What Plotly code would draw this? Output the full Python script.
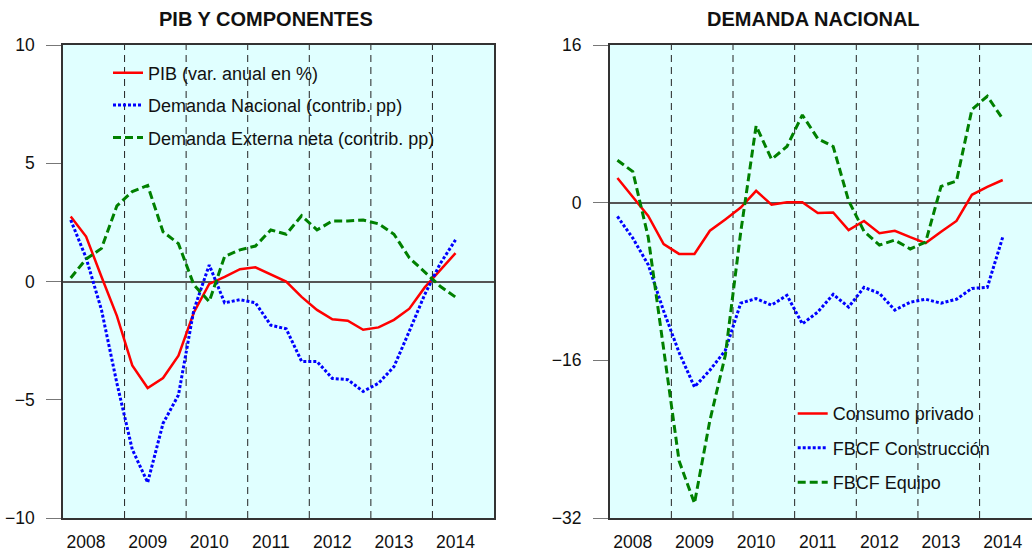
import plotly.graph_objects as go

# ---------------- data ----------------
years = [2008, 2009, 2010, 2011, 2012, 2013, 2014]
quarters = [f"{y}T{q}" for y in years for q in (1, 2, 3, 4)][:26]  # 2008T1 .. 2014T2

pib = [2.75, 1.9, 0.2, -1.45, -3.55, -4.5, -4.08, -3.14,
       -1.31, -0.1, 0.2, 0.52, 0.6, 0.3, 0.0, -0.65,
       -1.2, -1.6, -1.66, -2.04, -1.94, -1.62, -1.15, -0.25,
       0.47, 1.2]
demanda_nacional = [2.6, 1.0, -1.2, -4.3, -7.1, -8.5, -6.0, -4.8,
                    -1.2, 0.7, -0.9, -0.77, -0.9, -1.85, -2.0, -3.38,
                    -3.38, -4.1, -4.15, -4.65, -4.3, -3.6, -2.1, -0.55,
                    0.75, 1.76]
demanda_externa = [0.15, 0.95, 1.4, 3.2, 3.8, 4.06, 2.1, 1.6,
                   -0.14, -0.85, 1.06, 1.34, 1.5, 2.18, 2.0, 2.78,
                   2.18, 2.56, 2.56, 2.6, 2.44, 2.0, 1.0, 0.42,
                   -0.2, -0.66]

consumo_privado = [2.5, 0.6, -1.35, -4.2, -5.2, -5.2, -2.85, -1.7,
                   -0.5, 1.2, -0.2, 0.05, 0.05, -1.05, -1.0, -2.78,
                   -1.85, -3.1, -2.85, -3.5, -4.1, -2.95, -1.85, 0.8,
                   1.6, 2.3]
fbcf_construccion = [-1.4, -3.6, -6.3, -11.0, -15.2, -18.7, -17.0, -15.0,
                     -10.2, -9.73, -10.4, -9.4, -12.3, -11.1, -9.3, -10.6,
                     -8.6, -9.2, -10.9, -10.1, -9.8, -10.2, -9.8, -8.7,
                     -8.6, -3.5]
fbcf_equipo = [4.3, 3.15, -3.5, -15.0, -26.2, -30.5, -22.1, -15.5,
               -3.0, 7.8, 4.4, 5.7, 8.9, 6.5, 5.7, 0.2,
               -2.9, -4.3, -3.8, -4.7, -4.0, 1.65, 2.2, 9.45,
               10.8, 8.5]

year_ticks = [f"{y}T2" for y in years]
year_text = [str(y) for y in years]
left_yticks = [-10, -5, 0, 5, 10]
right_yticks = [-32, -16, 0, 16]

titles = ["PIB Y COMPONENTES", "DEMANDA NACIONAL"]

# ---------------- styles ----------------
FONT = "Arial, Liberation Sans, sans-serif"
RED, BLUE, GREEN = "#FF0000", "#0000FF", "#008000"
BG = "#E0FFFF"

fig = go.Figure()

left_series = [
    ("PIB (var. anual en %)", pib, RED, "solid", 2.5),
    ("Demanda Nacional (contrib. pp)", demanda_nacional, BLUE, "3px,2px", 3),
    ("Demanda Externa neta (contrib. pp)", demanda_externa, GREEN, "8px,4px", 3),
]
right_series = [
    ("Consumo privado", consumo_privado, RED, "solid", 2.5),
    ("FBCF Construcción", fbcf_construccion, BLUE, "3px,2px", 3),
    ("FBCF Equipo", fbcf_equipo, GREEN, "8px,4px", 3),
]

for i, (name, vals, col, dash, w) in enumerate(left_series):
    fig.add_trace(go.Scatter(x=quarters, y=vals, name=name, mode="lines",
                             line=dict(color=col, dash=dash, width=w),
                             xaxis="x", yaxis="y", legend="legend",
                             legendgroup=f"l{i}"))
for i, (name, vals, col, dash, w) in enumerate(right_series):
    fig.add_trace(go.Scatter(x=quarters, y=vals, name=name, mode="lines",
                             line=dict(color=col, dash=dash, width=w),
                             xaxis="x2", yaxis="y2", legend="legend2",
                             legendgroup=f"r{i}"))

# year separators (dashed vertical lines at year boundaries)
shapes = []
for j in range(1, len(years)):
    pos = 4 * j - 0.5
    for xr, yr in (("x", "y domain"), ("x2", "y2 domain")):
        shapes.append(dict(type="line", xref=xr, yref=yr, x0=pos, x1=pos,
                           y0=0, y1=1, layer="below",
                           line=dict(color="#222222", width=1, dash="7px,5px")))

xcommon = dict(type="category", categoryorder="array", categoryarray=quarters,
               tickmode="array", tickvals=year_ticks, ticktext=year_text,
               showgrid=False, zeroline=False, showline=True, linecolor="#333333",
               linewidth=1.5, ticks="outside", ticklen=4, tickcolor="rgba(0,0,0,0)",
               ticklabelstandoff=3,
               tickfont=dict(family=FONT, size=17.5, color="#111111"),
               automargin=False)
ycommon = dict(showgrid=False, zeroline=True, zerolinecolor="#555555", zerolinewidth=1.5,
               showline=True, linecolor="#333333", linewidth=1.5,
               ticks="outside", ticklen=15, tickcolor="#777777", tickwidth=1,
               ticklabelstandoff=8,
               tickfont=dict(family=FONT, size=17.5, color="#111111"),
               automargin=False)

fig.update_layout(
    width=1032, height=552,
    margin=dict(l=0, r=0, t=45, b=34),
    paper_bgcolor="white",
    plot_bgcolor=BG,
    font=dict(family=FONT, color="#111111"),
    shapes=shapes,
    xaxis=dict(xcommon, domain=[63 / 1032, 494 / 1032], range=[-0.5, 27.5],
               mirror=True, anchor="y"),
    yaxis=dict(ycommon, domain=[0, 1], range=[-10, 10], tickvals=left_yticks,
               mirror=True, anchor="x"),
    xaxis2=dict(xcommon, domain=[609.7 / 1032, 1.0], range=[-0.5, 26.9],
                mirror=True, anchor="y2"),
    yaxis2=dict(ycommon, domain=[0, 1], range=[-32, 16], tickvals=right_yticks,
                mirror=False, anchor="x2"),
    legend=dict(x=108 / 1032, y=0.9799, xanchor="left", yanchor="top",
                bgcolor="rgba(0,0,0,0)", borderwidth=0, tracegroupgap=6,
                font=dict(family=FONT, size=18, color="#111111")),
    legend2=dict(x=792.7 / 1032, y=0.2595, xanchor="left", yanchor="top",
                 bgcolor="rgba(0,0,0,0)", borderwidth=0, tracegroupgap=8,
                 font=dict(family=FONT, size=18, color="#111111")),
    annotations=[
        dict(text=f"<b>{titles[0]}</b>", x=266 / 1032, y=1, xref="paper", yref="paper",
             showarrow=False, font=dict(family=FONT, size=20, color="#111111"),
             xanchor="center", yanchor="middle"),
        dict(text=f"<b>{titles[1]}</b>", x=813 / 1032, y=1, xref="paper", yref="paper",
             showarrow=False, font=dict(family=FONT, size=20, color="#111111"),
             xanchor="center", yanchor="middle"),
    ],
    showlegend=True,
)

# place titles in pixel terms (y measured from top of the page)
plot_h = 552 - 45 - 34
for ann in fig.layout.annotations:
    ann.y = 1 + (45 - 19) / plot_h

fig.write_html("out.html", config={"displayModeBar": False},
               post_script="document.body.style.margin='0';")
